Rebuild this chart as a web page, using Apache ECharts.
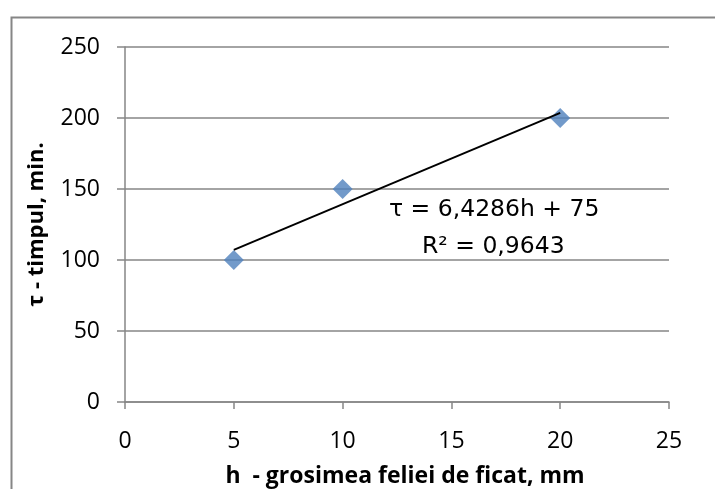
<!DOCTYPE html>
<html><head><meta charset="utf-8">
<script src="https://cdn.jsdelivr.net/npm/echarts@6/dist/echarts.min.js"></script>
<style>html,body{margin:0;padding:0;background:#fff}#c{width:715px;height:489px}</style>
</head><body><div id="c"></div>
<script>
const xValues = [5, 10, 20];
const yValues = [100, 150, 200];
const trendX = [5, 20];
const trendY = [107.14, 203.57];
const xTicks = [0, 5, 10, 15, 20, 25];
const yTicks = [0, 50, 100, 150, 200, 250];
const eqText = 'τ = 6,4286h + 75';
const r2Text = 'R² = 0,9643';
const xTitle = 'h  - grosimea feliei de ficat, mm';
const yTitle = 'τ - timpul, min.';

const font = "'Open Sans', 'Noto Sans', sans-serif";
const eqFont = "'DejaVu Sans', sans-serif";
const chart = echarts.init(document.getElementById('c'));
chart.setOption({
  animation: false,
  grid: {left: 125, right: 46, top: 47, bottom: 87, containLabel: false, outerBoundsMode: 'none'},
  xAxis: {
    type: 'value', min: xTicks[0], max: xTicks[xTicks.length-1], interval: 5,
    name: xTitle, nameLocation: 'middle', nameGap: 63,
    nameTextStyle: {fontFamily: font, fontWeight: 'bold', fontSize: 23, color: '#000', padding: [0, 0, 0, 16]},
    axisLine: {show: true, lineStyle: {color: '#868686', width: 1.5}},
    axisTick: {show: true, length: 7, lineStyle: {color: '#868686', width: 1.5}},
    axisLabel: {fontFamily: font, fontSize: 23, color: '#000', margin: 28},
    splitLine: {show: false}
  },
  yAxis: {
    type: 'value', min: yTicks[0], max: yTicks[yTicks.length-1], interval: 50,
    name: yTitle, nameLocation: 'middle', nameGap: 77, nameRotate: 90,
    nameTextStyle: {fontFamily: font, fontWeight: 'bold', fontSize: 22, color: '#000'},
    axisLine: {show: true, lineStyle: {color: '#868686', width: 1.5}},
    axisTick: {show: true, length: 8, lineStyle: {color: '#868686', width: 1.5}},
    axisLabel: {fontFamily: font, fontSize: 23, color: '#000', margin: 25},
    splitLine: {show: true, lineStyle: {color: '#868686', width: 1.5}}
  },
  series: [
    {
      type: 'line', data: trendX.map((x, i) => [x, trendY[i]]),
      showSymbol: false, symbol: 'none',
      lineStyle: {color: '#000', width: 2}, z: 3
    },
    {
      type: 'scatter', data: xValues.map((x, i) => [x, yValues[i]]),
      symbol: 'diamond', symbolSize: [20, 20],
      itemStyle: {color: '#4F81BD'}, z: 2
    }
  ],
  graphic: [
    {type: 'rect', left: 9, top: 15, shape: {width: 720, height: 500},
     style: {fill: 'none', stroke: '#868686', lineWidth: 2}, silent: true},
    {type: 'text', left: 389, top: 198, style: {text: eqText, font: '23.5px ' + eqFont, fill: '#000'}},
    {type: 'text', left: 422, top: 235, style: {text: r2Text, font: '23.5px ' + eqFont, fill: '#000'}}
  ]
});
</script></body></html>
